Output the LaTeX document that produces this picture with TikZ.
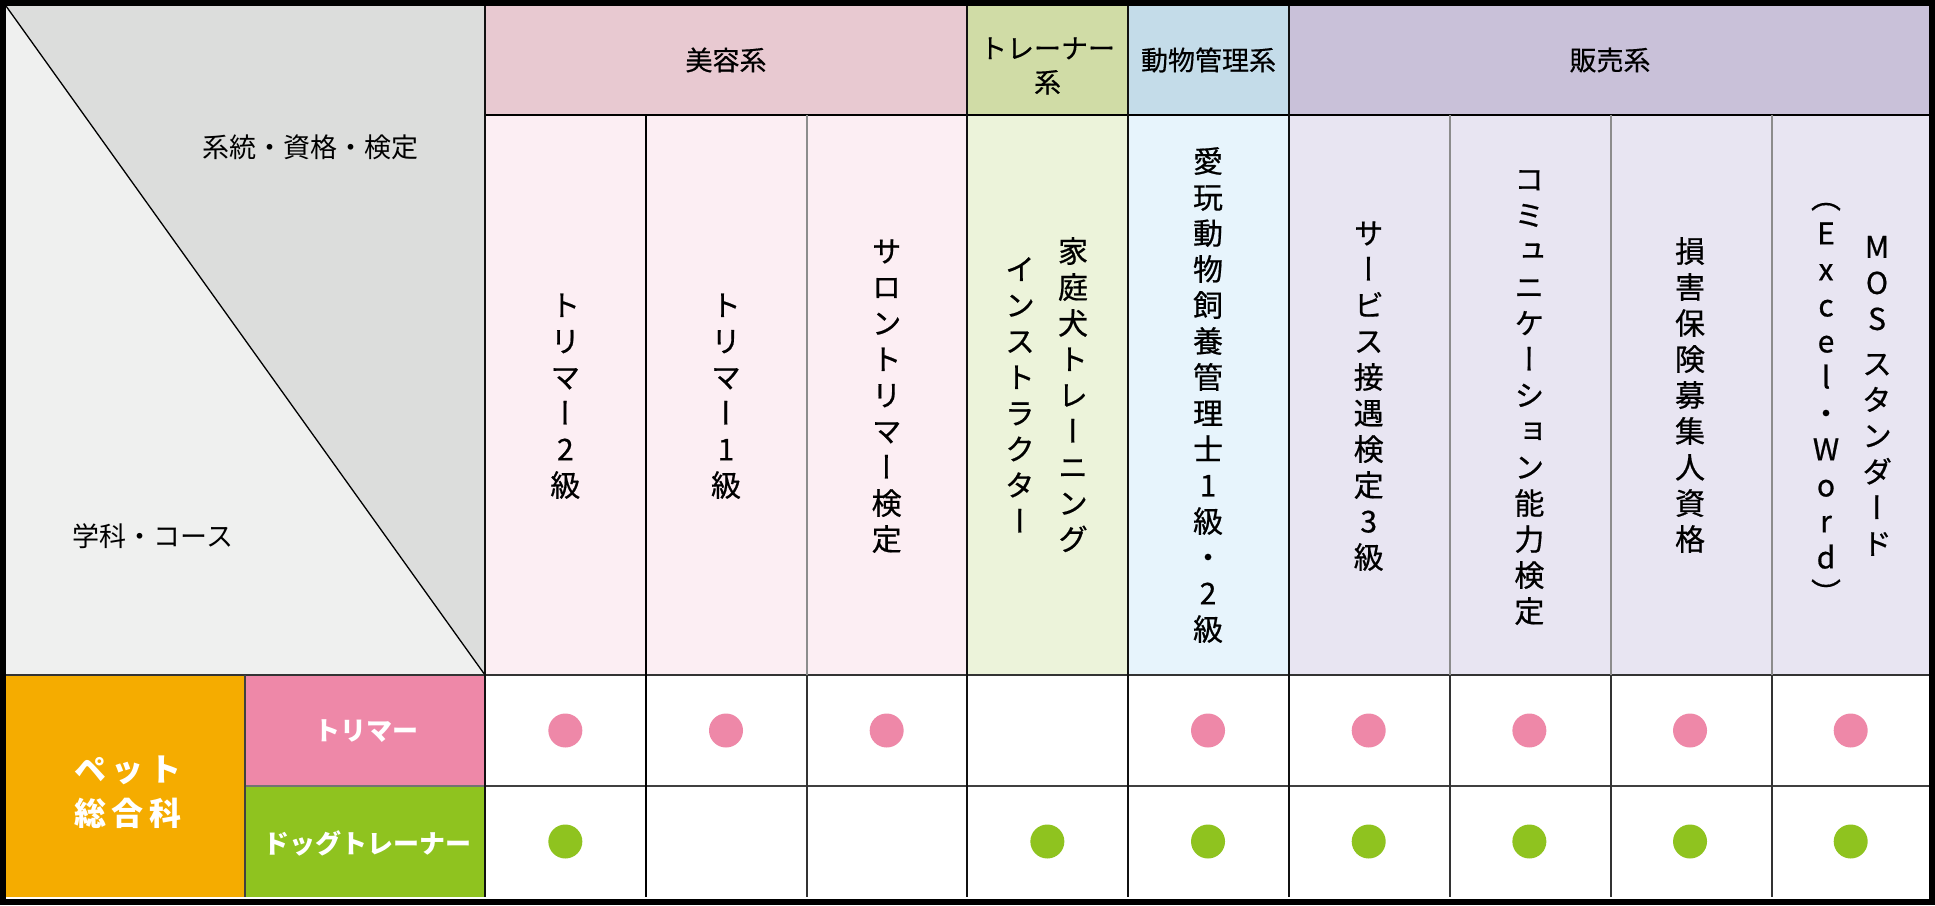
\documentclass[tikz,border=0pt]{standalone}
\usepackage{fontspec}
\setmainfont{Noto Sans CJK JP}
\newfontfamily\tatefont[RawFeature=+vert, FakeBold=0.6]{Noto Sans CJK JP}
\newfontfamily\hdrfont[FakeBold=0.4]{Noto Sans CJK JP}
\newfontfamily\coursefont[LetterSpace=18]{Noto Sans CJK JP}

\definecolor{frame}{HTML}{111111}
\definecolor{cornerDark}{HTML}{DCDDDC}
\definecolor{cornerLight}{HTML}{EFF0EF}
\definecolor{biyoHead}{HTML}{E8C9D1}
\definecolor{biyoBody}{HTML}{FCEEF3}
\definecolor{trainHead}{HTML}{D0DCA6}
\definecolor{trainBody}{HTML}{ECF3DA}
\definecolor{animalHead}{HTML}{C4DCE9}
\definecolor{animalBody}{HTML}{E7F4FC}
\definecolor{salesHead}{HTML}{C9C1D9}
\definecolor{salesBody}{HTML}{E8E5F2}
\definecolor{petOrange}{HTML}{F5AC00}
\definecolor{trimPink}{HTML}{EE88A8}
\definecolor{dogGreen}{HTML}{8FC31F}

% vertical (tategaki) stack, one glyph per slot
\newcommand\tatesp{}
\def\tatestep#1{\ifx\relax#1\else
  \ifx\tatesp#1\vskip9pt\else
  \hbox to 40pt{\hss\vbox to 36pt{\vss\hbox{\vrule height .88em depth .12em width 0pt #1}\vss}\hss}\fi
  \expandafter\tatestep\fi}
\newcommand\tate[1]{\vbox{\offinterlineskip\tatestep#1\relax}}

\begin{document}
\begin{tikzpicture}[
  x=1pt, y=-1pt,
  tate/.style={font=\tatefont\fontsize{30pt}{36pt}\selectfont, inner sep=0pt},
  hdr/.style={font=\hdrfont\fontsize{27pt}{34pt}\selectfont, align=center, inner sep=0pt},
  corner/.style={font=\fontsize{27pt}{30pt}\selectfont, inner sep=0pt},
  course/.style={font=\bfseries\fontsize{26pt}{30pt}\selectfont, text=white, inner sep=0pt},
  spot/.style={circle, minimum size=34pt, inner sep=0pt},
  catline/.style={line width=2pt, draw=frame},
  subline/.style={line width=1.6pt, draw=black!45},
]
  \fill[white] (0,0) rectangle (1935,905);

  % corner cell
  \fill[cornerLight] (6,6) rectangle (485,675);
  \fill[cornerDark] (6,6) -- (485,6) -- (485,675) -- cycle;
  \draw[line width=1.3pt] (6,6) -- (485,675);
  \node[corner] (kind) at (310,147) {系統・資格・検定};
  \node[corner] (dept) at (153,536) {学科・コース};

  % category headers and column bodies
  \fill[biyoHead] (485,6) rectangle (967,115);
  \fill[trainHead] (967,6) rectangle (1128,115);
  \fill[animalHead] (1128,6) rectangle (1289,115);
  \fill[salesHead] (1289,6) rectangle (1931,115);
  \fill[biyoBody] (485,115) rectangle (967,675);
  \fill[trainBody] (967,115) rectangle (1128,675);
  \fill[animalBody] (1128,115) rectangle (1289,675);
  \fill[salesBody] (1289,115) rectangle (1931,675);

  \node[hdr] (biyo) at (726,60) {美容系};
  \node[hdr] (train) at (1047.5,66) {トレーナー\\系};
  \node[hdr] (animal) at (1208.5,60) {動物管理系};
  \node[hdr] (sales) at (1610,60) {販売系};

  % course labels
  \fill[petOrange] (6,675) rectangle (245,897);
  \fill[trimPink] (245,675) rectangle (485,786);
  \fill[dogGreen] (245,786) rectangle (485,897);
  \node[course, font=\coursefont\bfseries\fontsize{32pt}{44pt}\selectfont, align=center] (pet) at (128,792) {ペット\\総合科};
  \node[course] (trim) at (366,731) {トリマー};
  \node[course] (dog) at (367,843) {ドッグトレーナー};

  % certificate names
  \foreach \i/\txt in {1/トリマー2級, 2/トリマー1級, 3/サロントリマー検定,
      5/愛玩動物飼養管理士1級・2級, 6/サービス接遇検定3級,
      7/コミュニケーション能力検定, 8/損害保険募集人資格}
    \node[tate] (cert\i) at ({485+160.67*(\i-0.5)},395) {\expandafter\tate\expandafter{\txt}};
  \node[tate] (cert4a) at (1073,395) {\tate{家庭犬トレーニング}};
  \node[tate] (cert4b) at (1020,395) {\tate{インストラクター}};
  \node[tate] (cert9a) at (1877,395) {\tate{MOS\tatesp スタンダード}};
  \node[tate] (cert9b) at (1826,395) {\tate{（Excel・Word）}};

  % grid
  \draw[line width=2pt] (485,115) -- (1931,115);
  \draw[line width=2pt, draw=black!80] (6,675) -- (1931,675);
  \draw[line width=2.5pt, draw=black!75] (485,786) -- (1931,786);
  \draw[line width=1.5pt, draw=black!55] (245,786) -- (485,786);
  \draw[line width=1.5pt, draw=black!75] (245,675) -- (245,897);
  \foreach \x in {485,967,1128,1289}
    \draw[catline] (\x,6) -- (\x,897);
  \draw[line width=1.5pt] (646,115) -- (646,897);
  \foreach \x in {807,1450,1611,1772} {
    \draw[subline] (\x,115) -- (\x,675);
    \draw[line width=2pt, draw=black!80] (\x,675) -- (\x,897);
  }

  % marks
  \foreach \c in {1,2,3,5,6,7,8,9}
    \node[spot, fill=trimPink] (t\c) at ({485+160.67*(\c-0.5)},730.5) {};
  \foreach \c in {1,4,5,6,7,8,9}
    \node[spot, fill=dogGreen] (d\c) at ({485+160.67*(\c-0.5)},841.5) {};

  \draw[line width=6pt, draw=black] (3,3) rectangle (1932,902);
\end{tikzpicture}
\end{document}
